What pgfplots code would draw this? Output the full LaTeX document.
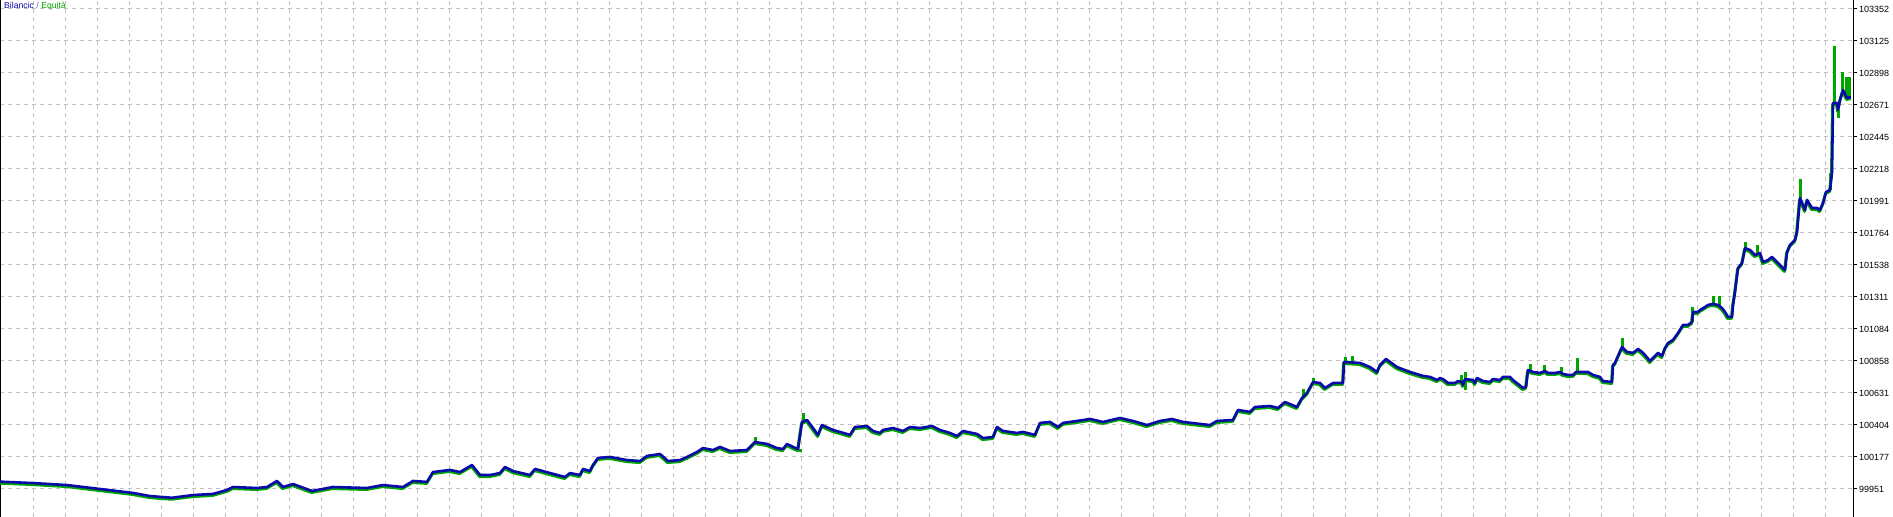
\documentclass[border=0pt]{standalone}
\usepackage{fontspec}
\setmainfont{Liberation Sans}
\usepackage{pgfplots}
\pgfplotsset{compat=1.18}
\usepackage{pgfplotstable}
\definecolor{bal}{RGB}{10,10,170}
\definecolor{eq}{RGB}{0,165,0}
\definecolor{gridc}{RGB}{192,192,192}

\pgfplotstableread{
x v
0 100003
33 99993
67 99979
100 99951
133 99923
150 99901
172 99889
193 99908
213 99916
227 99944
233 99965
257 99958
267 99965
277 100008
283 99965
293 99986
312 99937
333 99965
367 99958
383 99979
403 99965
413 100008
427 100001
433 100071
450 100086
460 100071
472 100121
480 100050
490 100050
500 100064
505 100107
513 100078
530 100050
535 100093
550 100064
565 100036
570 100064
580 100050
583 100093
590 100078
593 100121
598 100171
610 100178
627 100156
640 100149
647 100185
660 100199
668 100149
680 100156
687 100178
697 100213
703 100241
713 100227
720 100249
730 100220
747 100227
755 100284
767 100270
777 100241
783 100234
787 100270
793 100249
798 100234
802 100426
807 100440
813 100383
818 100334
822 100404
833 100369
840 100355
850 100334
855 100390
867 100397
873 100362
880 100348
883 100369
893 100383
903 100362
910 100390
920 100383
932 100397
940 100369
950 100348
957 100326
963 100362
977 100341
983 100312
993 100319
997 100390
1003 100362
1017 100348
1023 100355
1035 100334
1040 100419
1050 100426
1058 100390
1063 100419
1077 100433
1090 100447
1103 100426
1120 100454
1133 100433
1147 100404
1160 100433
1172 100447
1183 100426
1210 100404
1217 100433
1233 100440
1238 100511
1250 100497
1255 100532
1270 100539
1278 100525
1285 100567
1297 100532
1302 100596
1307 100631
1313 100709
1320 100702
1325 100667
1333 100702
1343 100702
1344 100851
1360 100844
1370 100815
1377 100780
1380 100830
1386 100872
1397 100815
1410 100780
1423 100752
1430 100745
1437 100723
1440 100737
1443 100730
1448 100702
1455 100702
1458 100716
1462 100709
1463 100688
1465 100730
1473 100723
1475 100702
1477 100737
1483 100716
1490 100709
1493 100730
1500 100723
1503 100745
1510 100745
1513 100723
1518 100695
1523 100667
1526 100674
1528 100794
1533 100780
1540 100773
1545 100787
1548 100773
1555 100773
1560 100780
1563 100766
1568 100759
1573 100759
1576 100780
1588 100780
1593 100759
1600 100745
1603 100716
1612 100709
1613 100830
1615 100844
1622 100957
1627 100922
1633 100915
1638 100943
1642 100922
1645 100900
1650 100858
1653 100879
1658 100915
1662 100893
1665 100950
1668 100985
1673 101007
1678 101056
1683 101113
1688 101113
1692 101134
1693 101205
1698 101205
1700 101219
1705 101240
1708 101255
1713 101262
1718 101255
1722 101233
1725 101205
1728 101170
1732 101170
1733 101255
1735 101347
1738 101517
1742 101552
1745 101658
1750 101644
1755 101609
1760 101623
1763 101559
1768 101573
1772 101595
1778 101552
1785 101503
1787 101630
1790 101680
1795 101715
1797 101772
1800 102013
1803 101963
1805 101928
1807 101999
1812 101942
1817 101942
1820 101928
1823 101977
1826 102055
1830 102069
1832 102197
1833 102686
1837 102686
1838 102636
1840 102707
1843 102778
1847 102721
1851 102728
}\balancetab

\pgfplotstableread{
x v
755 100284
755 100319
756 nan
800 100234
800 100213
801 nan
803 100426
803 100490
804 nan
1303 100596
1303 100660
1304 nan
1313 100709
1313 100737
1314 nan
1345 100851
1345 100886
1346 nan
1352 100844
1352 100893
1353 nan
1461 100709
1461 100759
1462 nan
1465 100652
1465 100780
1466 nan
1530 100794
1530 100837
1531 nan
1544 100787
1544 100829
1545 nan
1561 100780
1561 100815
1562 nan
1577 100780
1577 100879
1578 nan
1622 100957
1622 101021
1623 nan
1692 101134
1692 101240
1693 nan
1713 101262
1713 101318
1714 nan
1719 101255
1719 101318
1720 nan
1745 101658
1745 101701
1746 nan
1757 101609
1757 101680
1758 nan
1800 102013
1800 102147
1801 nan
1830 102069
1830 102190
1831 nan
1834 102686
1834 103090
1835 nan
1838 102636
1838 102580
1839 nan
1842 102778
1842 102905
1843 nan
1846 102721
1846 102870
1847 nan
1849 102728
1849 102870
}\spiketab

\begin{document}
\begin{tikzpicture}
\useasboundingbox (0,0) rectangle (1893bp,517bp);
\begin{axis}[
  at={(0,0)}, anchor=south west, scale only axis,
  width=1853bp, height=517bp,
  xmin=0, xmax=1853, ymin=99752.6, ymax=103415.6,
  xtick={33,65,...,1825},
  xticklabels={},
  xtick style={draw=none},
  ytick={99951,100177.73,100404.47,100631.2,100857.93,101084.67,101311.4,101538.13,101764.87,101991.6,102218.33,102445.07,102671.8,102898.53,103125.27,103352},
  yticklabels={99951,100177,100404,100631,100858,101084,101311,101538,101764,101991,102218,102445,102671,102898,103125,103352},
  ytick pos=right, yticklabel pos=right,
  tick align=outside,
  major tick length=4bp,
  ytick style={black, line width=1bp},
  yticklabel style={font=\fontsize{9}{10}\selectfont, text=black, inner sep=0pt, xshift=2bp},
  grid=major,
  major grid style={gridc, line width=1bp, dash pattern=on 4bp off 4bp},
  separate axis lines,
  x axis line style={draw=none},
  y axis line style={black, line width=1bp},
  unbounded coords=jump,
  clip=true,
]
\addplot[eq, line width=3bp, line join=round, yshift=-1.5bp, xshift=-0.5bp] table[x=x, y=v] {\balancetab};
\addplot[eq, line width=3bp] table[x=x, y=v] {\spiketab};
\addplot[bal, line width=2.6bp, line join=round] table[x=x, y=v] {\balancetab};
\node[anchor=north west, inner sep=0pt, font=\fontsize{8.7}{10}\selectfont] at (rel axis cs:0,1) [xshift=4bp, yshift=-2bp]
  {\textcolor{bal}{Bilancic} \textcolor[RGB]{90,90,150}{/} \textcolor{eq}{Equità}};
\end{axis}
\end{tikzpicture}
\end{document}
